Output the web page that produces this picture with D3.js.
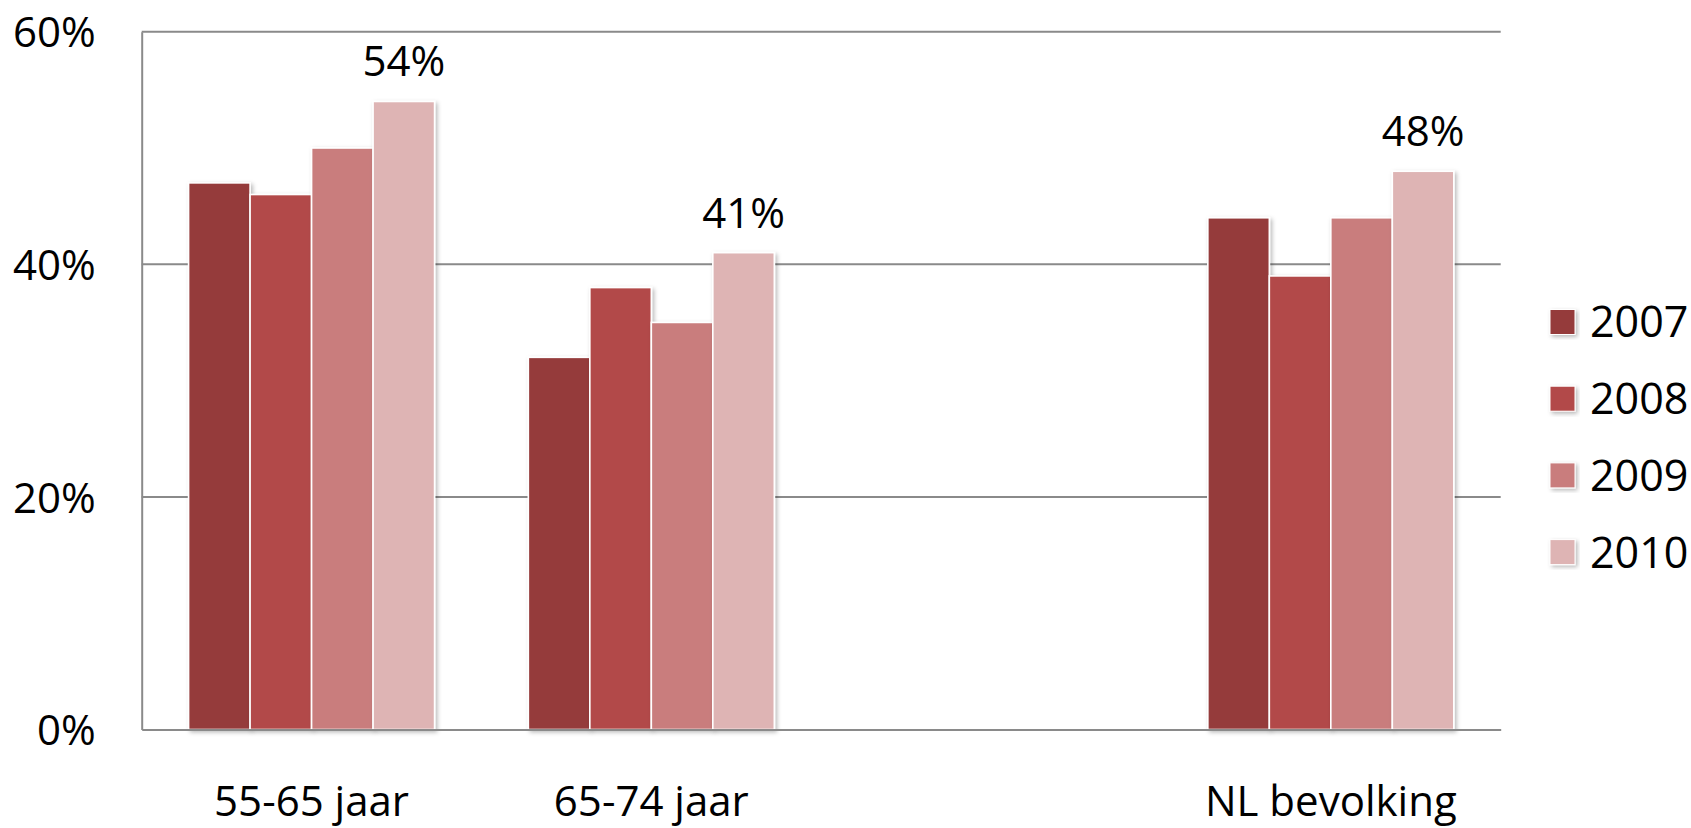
<!DOCTYPE html>
<html>
<head>
<meta charset="utf-8">
<script src="https://cdn.jsdelivr.net/npm/d3@7/dist/d3.min.js"></script>
<style>
  html, body { margin: 0; padding: 0; background: #ffffff; }
  svg { display: block; }
  text { font-family: "Open Sans", "Noto Sans", sans-serif; fill: #000; }
</style>
</head>
<body>
<svg id="chart" width="1691" height="828"></svg>
<script>
// ---- data ----
const categories = ["55-65 jaar", "65-74 jaar", "", "NL bevolking"];
const years = ["2007", "2008", "2009", "2010"];
const values2007 = [47, 32, null, 44];
const values2008 = [46, 38, null, 39];
const values2009 = [50, 35, null, 44];
const values2010 = [54, 41, null, 48];
const yTicks = [0, 20, 40, 60];
const colors = ["#953B3B", "#B24A48", "#C97D7D", "#DEB4B4"];
const labelledYear = "2010";

const seriesValues = [values2007, values2008, values2009, values2010];

(function () {
// ---- layout ----
const svg = d3.select("#chart");
const plotLeft = 141.7, plotRight = 1500.7, plotTop = 31.7, plotBottom = 729.5;
const fontSize = 42;

const defs = svg.append("defs");
const f = defs.append("filter").attr("id", "shadow")
  .attr("x", "-10%").attr("y", "-10%").attr("width", "130%").attr("height", "130%");
f.append("feDropShadow").attr("dx", 2).attr("dy", 2).attr("stdDeviation", 2)
  .attr("flood-color", "#000").attr("flood-opacity", 0.28);

const x0 = d3.scaleBand().domain(categories).range([plotLeft, plotRight])
  .paddingInner(0.276).paddingOuter(0.138);
const x1 = d3.scaleBand().domain(years).range([0, x0.bandwidth()]);
const y = d3.scaleLinear().domain([0, 60]).range([plotBottom, plotTop]);

// gridlines
svg.append("g").selectAll("line").data(yTicks.filter(t => t > 0)).join("line")
  .attr("x1", plotLeft).attr("x2", plotRight)
  .attr("y1", d => y(d)).attr("y2", d => y(d))
  .attr("stroke", "#8a8a8a").attr("stroke-width", 2);

// y axis
const yAxis = d3.axisLeft(y).tickValues(yTicks).tickSize(0).tickPadding(46)
  .tickFormat(d => d + "%");
const gy = svg.append("g").attr("transform", `translate(${plotLeft},0)`).call(yAxis);
gy.select(".domain").attr("stroke", "#8a8a8a").attr("stroke-width", 2);
gy.selectAll("text").attr("font-size", fontSize).attr("font-family", null)
  .attr("fill", "#000").attr("dy", "0.36em");

// bars
const data = [];
categories.forEach((c, ci) => {
  years.forEach((yr, si) => {
    const v = seriesValues[si][ci];
    if (v != null) data.push({ cat: c, year: yr, value: v, color: colors[si] });
  });
});

svg.append("g").selectAll("rect").data(data).join("rect")
  .attr("x", d => x0(d.cat) + x1(d.year))
  .attr("y", d => y(d.value))
  .attr("width", x1.bandwidth())
  .attr("height", d => y(0) - y(d.value))
  .attr("fill", d => d.color)
  .attr("stroke", "#ffffff").attr("stroke-width", 1.6)
  .attr("filter", "url(#shadow)");

// baseline (x axis)
const xAxis = d3.axisBottom(x0).tickSize(0).tickPadding(0);
const gx = svg.append("g").attr("transform", `translate(0,${plotBottom})`).call(xAxis);
gx.select(".domain").attr("stroke", "#8a8a8a").attr("stroke-width", 2);
gx.selectAll("text").attr("font-size", fontSize).attr("font-family", null)
  .attr("fill", "#000").attr("dy", null).attr("y", 816 - plotBottom);

// value labels for 2010
svg.append("g").selectAll("text").data(data.filter(d => d.year === labelledYear)).join("text")
  .attr("x", d => x0(d.cat) + x1(d.year) + x1.bandwidth() / 2)
  .attr("y", d => y(d.value) - 25)
  .attr("text-anchor", "middle")
  .attr("font-size", fontSize)
  .text(d => d.value + "%");

// legend
const legend = svg.append("g").attr("transform", "translate(1550,322)");
const li = legend.selectAll("g").data(years).join("g")
  .attr("transform", (d, i) => `translate(0,${i * 76.7})`);
li.append("rect").attr("x", 0).attr("y", -12.5).attr("width", 25).attr("height", 25)
  .attr("fill", (d, i) => colors[i])
  .attr("stroke", "#fff").attr("stroke-width", 1)
  .attr("filter", "url(#shadow)");
li.append("text").attr("x", 40).attr("y", 0).attr("dy", "0.36em")
  .attr("font-size", 43).text(d => d);
})();
</script>
</body>
</html>
